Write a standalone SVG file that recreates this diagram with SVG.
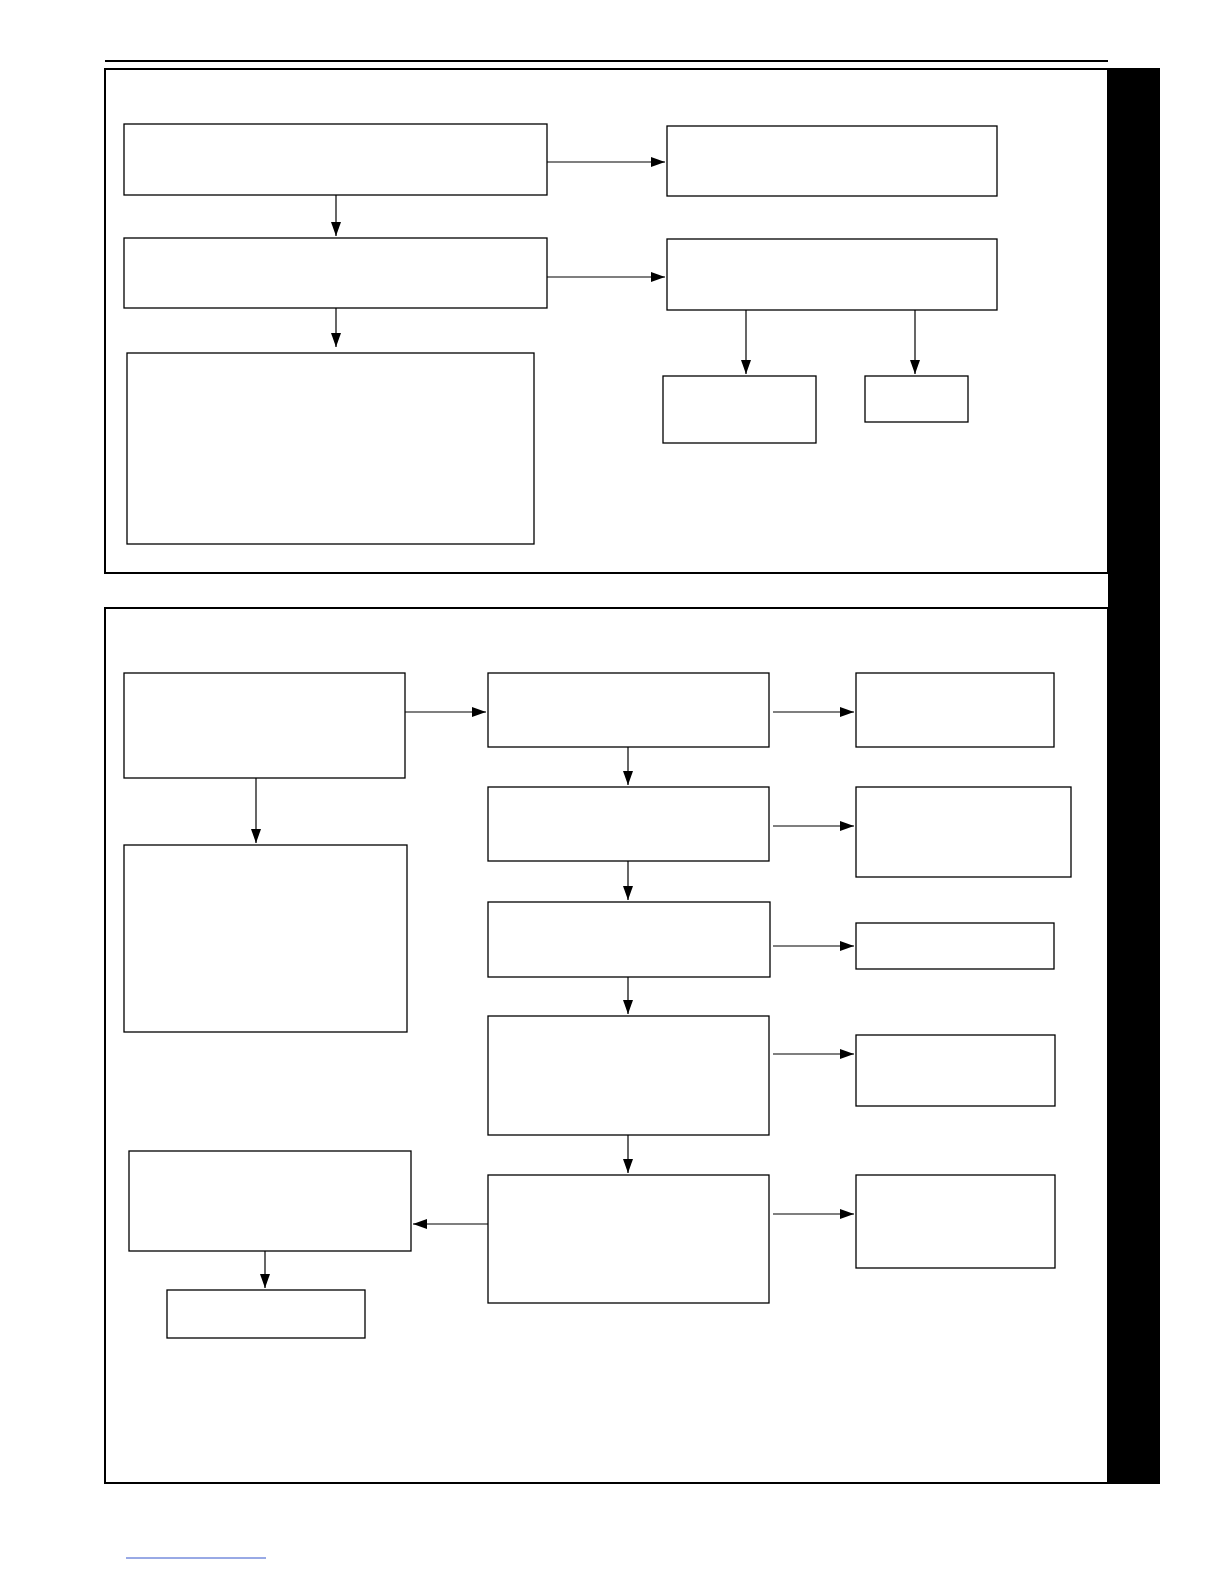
<svg xmlns="http://www.w3.org/2000/svg" width="1224" height="1584" viewBox="0 0 1224 1584">
<style>.n{fill:#fff;stroke:#000;stroke-width:1.3}.c{stroke:#000;stroke-width:1.2;fill:none;marker-end:url(#a)}.p{fill:none;stroke:#000;stroke-width:2}</style>
<defs><marker id="a" markerWidth="14" markerHeight="10" refX="14" refY="5" orient="auto" markerUnits="userSpaceOnUse"><path d="M0,0L14,5L0,10z"/></marker></defs>
<rect width="1224" height="1584" fill="#fff"/>
<line x1="105" y1="61" x2="1108" y2="61" stroke="#000" stroke-width="2"/>
<rect x="1108" y="68" width="52" height="1416" fill="#000"/>
<rect class="p" x="105" y="69" width="1003" height="504"/>
<rect class="p" x="105" y="608" width="1003" height="875"/>
<line x1="126" y1="1558" x2="266" y2="1558" stroke="#3355cc" stroke-width="1"/>
<g id="t1"><rect class="n" x="124" y="124" width="423" height="71"/></g>
<g id="t2"><rect class="n" x="124" y="238" width="423" height="70"/></g>
<g id="t3"><rect class="n" x="127" y="353" width="407" height="191"/></g>
<g id="t4"><rect class="n" x="667" y="126" width="330" height="70"/></g>
<g id="t5"><rect class="n" x="667" y="239" width="330" height="71"/></g>
<g id="t6"><rect class="n" x="663" y="376" width="153" height="67"/></g>
<g id="t7"><rect class="n" x="865" y="376" width="103" height="46"/></g>
<g id="b1"><rect class="n" x="124" y="673" width="281" height="105"/></g>
<g id="b2"><rect class="n" x="124" y="845" width="283" height="187"/></g>
<g id="b3"><rect class="n" x="129" y="1151" width="282" height="100"/></g>
<g id="b4"><rect class="n" x="167" y="1290" width="198" height="48"/></g>
<g id="m1"><rect class="n" x="488" y="673" width="281" height="74"/></g>
<g id="m2"><rect class="n" x="488" y="787" width="281" height="74"/></g>
<g id="m3"><rect class="n" x="488" y="902" width="282" height="75"/></g>
<g id="m4"><rect class="n" x="488" y="1016" width="281" height="119"/></g>
<g id="m5"><rect class="n" x="488" y="1175" width="281" height="128"/></g>
<g id="r1"><rect class="n" x="856" y="673" width="198" height="74"/></g>
<g id="r2"><rect class="n" x="856" y="787" width="215" height="90"/></g>
<g id="r3"><rect class="n" x="856" y="923" width="198" height="46"/></g>
<g id="r4"><rect class="n" x="856" y="1035" width="199" height="71"/></g>
<g id="r5"><rect class="n" x="856" y="1175" width="199" height="93"/></g>
<g id="connectors">
<path class="c" d="M547,162H665"/>
<path class="c" d="M547,277H665"/>
<path class="c" d="M336,195V236"/>
<path class="c" d="M336,308V347"/>
<path class="c" d="M746,310V374"/>
<path class="c" d="M915,310V374"/>
<path class="c" d="M405,712H486"/>
<path class="c" d="M256,778V843"/>
<path class="c" d="M628,747V785"/>
<path class="c" d="M628,861V900"/>
<path class="c" d="M628,977V1014"/>
<path class="c" d="M628,1135V1173"/>
<path class="c" d="M773,712H854"/>
<path class="c" d="M773,826H854"/>
<path class="c" d="M773,946H854"/>
<path class="c" d="M773,1054H854"/>
<path class="c" d="M773,1214H854"/>
<path class="c" d="M488,1224H413"/>
<path class="c" d="M265,1251V1288"/>
</g>
</svg>
